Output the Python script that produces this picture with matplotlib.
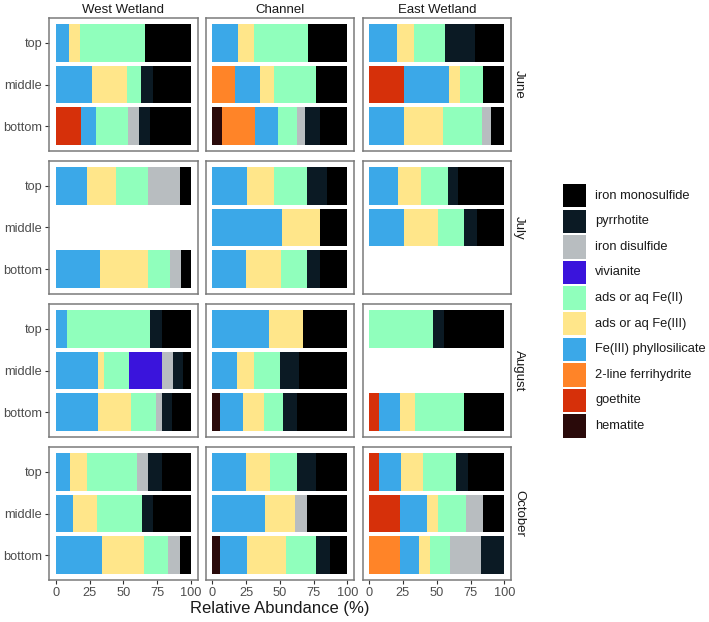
import matplotlib
matplotlib.use("Agg")
import matplotlib.pyplot as plt
from matplotlib.patches import Rectangle

plt.rcParams["font.family"] = ["Liberation Sans", "DejaVu Sans"]

# stacking order, left to right
minerals = ["hematite", "goethite", "2-line ferrihydrite", "Fe(III) phyllosilicate",
            "ads or aq Fe(III)", "ads or aq Fe(II)", "vivianite", "iron disulfide",
            "pyrrhotite", "iron monosulfide"]
colors = ["#2a0a0a", "#d6300a", "#ff8428", "#3ba8e8", "#ffe68a", "#90ffbc",
          "#3a14dc", "#b8bdc0", "#0b1a24", "#000000"]

sites = ["West Wetland", "Channel", "East Wetland"]
months = ["June", "July", "August", "October"]
depths = ["top", "middle", "bottom"]

# each site: rows for top, middle, bottom (None = no sample)
june = {
    "West Wetland": [[0, 0, 0, 10, 8, 48, 0, 0, 0, 34],
                     [0, 0, 0, 27, 26, 10, 0, 0, 9, 28],
                     [0, 18.5, 0, 11.5, 0, 23.5, 0, 8.5, 7.5, 30.5]],
    "Channel": [[0, 0, 0, 19, 12, 40, 0, 0, 0, 29],
                [0, 0, 17, 18, 11, 30.5, 0, 0, 0, 23.5],
                [7.5, 0, 24.5, 17, 0, 13.5, 0, 6, 11.5, 20]],
    "East Wetland": [[0, 0, 0, 20.5, 12.5, 23, 0, 0, 22, 22],
                     [0, 25.5, 0, 33.5, 8, 17.5, 0, 0, 0, 15.5],
                     [0, 0, 0, 25.5, 29, 29, 0, 6.5, 0, 10]],
}
july = {
    "West Wetland": [[0, 0, 0, 23, 21.5, 24, 0, 23.5, 0, 8],
                     None,
                     [0, 0, 0, 32.5, 36, 16, 0, 8.5, 0, 7]],
    "Channel": [[0, 0, 0, 26, 19.5, 24.5, 0, 0, 15, 15],
                [0, 0, 0, 52, 27.5, 0, 0, 0, 0, 20.5],
                [0, 0, 0, 25, 26, 19, 0, 0, 10, 20]],
    "East Wetland": [[0, 0, 0, 21.5, 17, 19.5, 0, 0, 8, 34],
                     [0, 0, 0, 25.5, 25.5, 19.5, 0, 0, 9.5, 20],
                     None],
}
august = {
    "West Wetland": [[0, 0, 0, 8.5, 0, 61, 0, 0, 9.5, 21],
                     [0, 0, 0, 31, 4.5, 19, 24.5, 8, 7.5, 5.5],
                     [0, 0, 0, 31, 24.5, 18.5, 0, 5, 7, 14]],
    "Channel": [[0, 0, 0, 42, 25, 0, 0, 0, 0, 33],
                [0, 0, 0, 18.5, 12.5, 19.5, 0, 0, 14, 35.5],
                [6, 0, 0, 17, 15, 14.5, 0, 0, 10, 37.5]],
    "East Wetland": [[0, 0, 0, 0, 0, 47, 0, 0, 8.5, 44.5],
                     None,
                     [0, 7, 0, 15.5, 11.5, 36, 0, 0, 0, 30]],
}
october = {
    "West Wetland": [[0, 0, 0, 10.5, 12.5, 37, 0, 8.5, 10.5, 21],
                     [0, 0, 0, 13, 17.5, 33.5, 0, 0, 8, 28],
                     [0, 0, 0, 34.5, 30.5, 18.5, 0, 8.5, 0, 8]],
    "Channel": [[0, 0, 0, 25, 17.5, 20.5, 0, 0, 13.5, 23.5],
                [0, 0, 0, 39, 22, 0, 0, 9.5, 0, 29.5],
                [5.5, 0, 0, 20.5, 28.5, 22.5, 0, 0, 10, 13]],
    "East Wetland": [[0, 7, 0, 16.5, 16.5, 24, 0, 0, 9.5, 26.5],
                     [0, 22.5, 0, 20, 8.5, 20.5, 0, 13, 0, 15.5],
                     [0, 0, 22.5, 14, 8.5, 14.5, 0, 23, 17.5, 0]],
}
data = [june, july, august, october]

W, H = 709, 622
fig = plt.figure(figsize=(W / 100, H / 100), dpi=100)

lefts = [49, 205.5, 362.5]
tops = [18, 161, 304, 447]
pw, ph = 148.5, 133
border = "#7a7a7a"

for r, month in enumerate(months):
    for c, site in enumerate(sites):
        ax = fig.add_axes([lefts[c] / W, 1 - (tops[r] + ph) / H, pw / W, ph / H])
        rows = data[r][site]
        for d, vals in enumerate(rows):
            if vals is None:
                continue
            y = 3 - d
            left = 0
            for k, v in enumerate(vals):
                if v > 0:
                    ax.barh(y, v, left=left, height=0.9, color=colors[k], linewidth=0)
                left += v
        ax.set_xlim(-5, 105)
        ax.set_ylim(0.4, 3.6)
        ax.set_yticks([3, 2, 1])
        ax.set_xticks([0, 25, 50, 75, 100])
        for s in ax.spines.values():
            s.set_color(border)
            s.set_linewidth(1.1)
        ax.tick_params(length=3, color="#333333", width=0.8,
                       labelsize=9.2, labelcolor="#4d4d4d", pad=2)
        if c == 0:
            ax.set_yticklabels(depths)
        else:
            ax.tick_params(axis="y", length=0, labelleft=False)
        if r == len(months) - 1:
            ax.set_xticklabels(["0", "25", "50", "75", "100"])
        else:
            ax.tick_params(axis="x", length=0, labelbottom=False)
        if r == 0:
            ax.set_title(site, fontsize=9.5, color="#1a1a1a", pad=3.5)
        if c == 2:
            ax.text(1.055, 0.5, month, transform=ax.transAxes, rotation=270,
                    ha="center", va="center", fontsize=9.5, color="#1a1a1a")

fig.text((lefts[0] + lefts[2] + pw) / 2 / W, 1 - 609 / H, "Relative Abundance (%)",
         ha="center", va="center", fontsize=12, color="#1a1a1a")

# legend drawn in its own axes, measured in pixels
lx, ly, lw, lh = 555, 178, 154, 268
lax = fig.add_axes([lx / W, 1 - (ly + lh) / H, lw / W, lh / H])
lax.set_xlim(lx, lx + lw)
lax.set_ylim(ly + lh, ly)
lax.axis("off")
key_w, key_h, pitch = 23.3, 23.3, 25.6
for i, k in enumerate(range(len(minerals) - 1, -1, -1)):
    y0 = 184 + i * pitch
    lax.add_patch(Rectangle((563, y0), key_w, key_h, facecolor=colors[k], edgecolor="none"))
    lax.text(595, y0 + key_h / 2, minerals[k], ha="left", va="center",
             fontsize=9.3, color="#1a1a1a")

fig.savefig("out.png", dpi=100)
